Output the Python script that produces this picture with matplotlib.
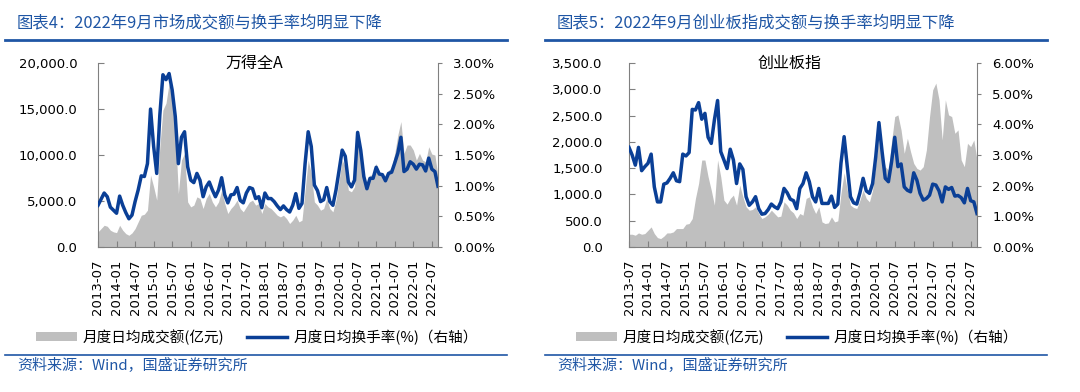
import numpy as np
import pandas as pd
import matplotlib
matplotlib.use("Agg")
import matplotlib.pyplot as plt
from matplotlib.patches import Patch
from matplotlib.lines import Line2D

plt.rcParams['font.family'] = ['Noto Sans CJK SC', 'DejaVu Sans']

# monthly data, 2013-07 .. 2022-09
months = pd.period_range("2013-07", "2022-09", freq="M").strftime("%Y-%m").tolist()
tick_labels = months[::6]

# 万得全A
wind_amt = [1640, 2000, 2360, 2250, 1820, 1640, 1560, 2360, 1820, 1450, 1270, 1530, 2000, 2730, 3450,
            3560, 4000, 7820, 6550, 5090, 10900, 14900, 15640, 17800, 16000, 12700, 5800, 9450, 10180,
            4900, 4360, 4550, 5450, 5270, 4180, 5270, 5820, 4900, 4360, 4900, 6180, 4730, 3640, 4180,
            4550, 5090, 4180, 3820, 4360, 4900, 5090, 4550, 4730, 3640, 4730, 4360, 4180, 3820, 3450,
            3270, 3450, 3090, 2550, 2910, 3450, 2730, 2910, 6180, 9450, 8000, 4900, 4550, 4000, 4180,
            5270, 4180, 3820, 5090, 7270, 9450, 8730, 6180, 6000, 6550, 11640, 9820, 7450, 6180, 7820,
            7820, 9090, 8000, 8000, 7090, 8360, 8550, 10180, 12180, 13640, 10180, 11090, 11090, 10550,
            9450, 10180, 9450, 9270, 10900, 10110, 10000, 7640]
wind_turn = [0.68, 0.78, 0.88, 0.82, 0.65, 0.60, 0.55, 0.83, 0.68, 0.56, 0.46, 0.52, 0.74, 0.93, 1.16,
             1.15, 1.36, 2.25, 1.64, 1.20, 2.15, 2.81, 2.73, 2.83, 2.56, 2.13, 1.36, 1.79, 1.88, 1.31,
             1.09, 1.05, 1.20, 1.09, 0.82, 0.98, 1.06, 0.93, 0.82, 0.93, 1.13, 0.85, 0.72, 0.85, 0.86,
             0.97, 0.76, 0.72, 0.88, 0.97, 0.95, 0.79, 0.82, 0.64, 0.88, 0.79, 0.79, 0.74, 0.67, 0.61,
             0.67, 0.61, 0.57, 0.68, 0.87, 0.63, 0.71, 1.36, 1.88, 1.64, 1.01, 0.92, 0.74, 0.77, 0.97,
             0.74, 0.68, 0.93, 1.25, 1.58, 1.48, 1.06, 0.98, 1.09, 1.87, 1.58, 1.15, 0.95, 1.12, 1.12,
             1.30, 1.19, 1.18, 1.08, 1.20, 1.22, 1.37, 1.53, 1.79, 1.23, 1.27, 1.39, 1.35, 1.27, 1.35,
             1.34, 1.24, 1.45, 1.27, 1.23, 0.99]

# 创业板指
cyb_amt = [242, 242, 223, 267, 242, 255, 318, 382, 255, 178, 159, 204, 267, 267, 286, 350, 350, 350,
           433, 446, 541, 923, 1209, 1655, 1655, 1337, 1082, 796, 1655, 1337, 891, 815, 923, 987, 796,
           1178, 955, 764, 700, 713, 764, 637, 541, 573, 624, 700, 637, 573, 586, 859, 796, 700, 649,
           541, 637, 605, 923, 955, 764, 637, 764, 477, 446, 458, 573, 477, 497, 1018, 1413, 1082, 796,
           751, 732, 891, 1082, 923, 859, 1082, 1591, 2132, 1814, 1528, 1464, 2005, 2482, 2514, 2228,
           1782, 2069, 1814, 1591, 1496, 1464, 1528, 1846, 2482, 2992, 3119, 2801, 2037, 2801, 2514,
           2482, 2164, 2228, 1655, 1528, 1973, 1910, 2037, 1655]
cyb_turn = [3.25, 3.00, 2.67, 3.25, 2.49, 2.62, 2.73, 3.03, 1.96, 1.47, 1.47, 2.05, 2.09, 2.24, 2.42,
            2.16, 2.13, 3.03, 2.97, 3.08, 4.49, 4.47, 4.71, 4.17, 4.36, 3.58, 3.38, 4.15, 4.78, 3.11,
            2.84, 2.56, 3.19, 2.84, 2.07, 2.71, 2.53, 1.64, 1.36, 1.47, 1.64, 1.25, 1.07, 1.09, 1.22,
            1.40, 1.31, 1.25, 1.47, 1.91, 1.77, 1.56, 1.51, 1.25, 1.91, 2.07, 2.42, 2.13, 1.64, 1.47,
            1.91, 1.42, 1.42, 1.42, 1.66, 1.29, 1.40, 2.73, 3.60, 2.62, 1.64, 1.44, 1.40, 1.77, 2.24,
            1.83, 1.75, 2.07, 2.95, 4.06, 3.11, 2.24, 2.13, 2.78, 3.58, 2.62, 2.71, 1.96, 1.85, 1.80,
            2.42, 2.18, 1.75, 1.53, 1.58, 1.69, 2.05, 2.02, 1.83, 1.47, 1.96, 1.88, 1.94, 1.66, 1.68,
            1.61, 1.44, 1.91, 1.51, 1.47, 1.09]

GRAY = '#BFBFBF'
LINE = '#0A3F96'
HEAD = '#1F56A5'

fig = plt.figure(figsize=(10.8, 3.92), dpi=100)


def panel(left, width, amt, turn, ymax, ystep, pmax, pstep, name, lpad):
    x = np.arange(len(months))
    ax = fig.add_axes([left, 0.370, width, 0.469])
    ax.fill_between(x, amt, 0, color=GRAY, linewidth=0)
    ax.set_xlim(0, len(months) - 1)
    ax.set_ylim(0, ymax)
    ax.set_yticks(np.arange(0, ymax + 1, ystep))
    ax.set_yticklabels([f"{v:,.1f}" for v in np.arange(0, ymax + 1, ystep)],
                       family='DejaVu Sans', fontsize=9.5)
    ax.set_xticks(x[::6])
    ax.set_xticklabels(tick_labels, rotation=90, family='DejaVu Sans', fontsize=9.5)
    ax.tick_params(axis='y', direction='in', length=4, color='#808080', pad=lpad)
    ax.tick_params(axis='x', direction='in', length=4, color='#808080', pad=9)
    for s in ['top', 'right']:
        ax.spines[s].set_visible(False)
    for s in ['left', 'bottom']:
        ax.spines[s].set_color('#808080')

    ax2 = ax.twinx()
    ax2.plot(x, turn, color=LINE, linewidth=2.5)
    ax2.set_ylim(0, pmax)
    ax2.set_yticks(np.arange(0, pmax + 0.001, pstep))
    ax2.set_yticklabels([f"{v:.2f}%" for v in np.arange(0, pmax + 0.001, pstep)],
                        family='DejaVu Sans', fontsize=9.5)
    ax2.tick_params(axis='y', direction='out', length=3, color='#808080', pad=8)
    for s in ['top', 'left', 'bottom']:
        ax2.spines[s].set_visible(False)
    ax2.spines['right'].set_color('#808080')
    ax.text(0.46, 1.0, name, transform=ax.transAxes, ha='center', va='center', fontsize=11.5)
    return ax


panel(98 / 1080, 340 / 1080, wind_amt, wind_turn, 20000, 5000, 3.0, 0.5, '万得全A', 15)
panel(629 / 1080, 348 / 1080, cyb_amt, cyb_turn, 3500, 500, 6.0, 1.0, '创业板指', 19)

titles = ['图表4：2022年9月市场成交额与换手率均明显下降',
          '图表5：2022年9月创业板指成交额与换手率均明显下降']
for i, t in enumerate(titles):
    x0 = 5 / 1080 + i * 540 / 1080
    fig.text(x0 + 12 / 1080, 1 - 23 / 392, t, color=HEAD, fontsize=11.8, style='italic',
             va='center', ha='left')
    fig.add_artist(Line2D([x0, x0 + 502 / 1080], [1 - 40 / 392] * 2, color=HEAD, lw=2,
                          transform=fig.transFigure))
    fig.add_artist(Line2D([x0, x0 + 502 / 1080], [1 - 355 / 392] * 2, color=HEAD, lw=1.2,
                          transform=fig.transFigure))
    fig.text(x0 + 12 / 1080, 1 - 366 / 392, '资料来源：Wind，国盛证券研究所', color=HEAD,
             fontsize=10.8, style='italic', va='center', ha='left')
    handles = [Patch(facecolor=GRAY, edgecolor='none'), Line2D([], [], color=LINE, lw=2.5)]
    fig.legend(handles, ['月度日均成交额(亿元)', '月度日均换手率(%)（右轴）'], ncol=2,
               loc='center', bbox_to_anchor=(x0 + 252 / 1080, 1 - 337 / 392), frameon=False,
               fontsize=10.5, handlelength=2.8, handleheight=0.6, columnspacing=1.5,
               handletextpad=0.4)

fig.savefig('out.png', dpi=100)
